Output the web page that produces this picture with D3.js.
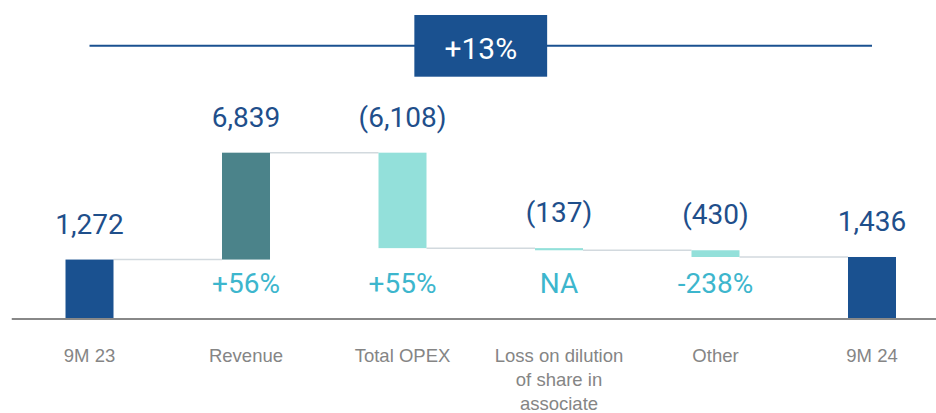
<!DOCTYPE html>
<html>
<head>
<meta charset="utf-8">
<script src="https://cdn.jsdelivr.net/npm/d3@7"></script>
<style>
  html, body { margin: 0; padding: 0; background: #fff; }
  svg { display: block; font-family: Roboto, "DejaVu Sans", sans-serif; }
</style>
</head>
<body>
<svg width="936" height="413"></svg>
<script>
// data
const categories = ['9M 23', 'Revenue', 'Total OPEX', 'Loss on dilution of share in associate', 'Other', '9M 24'];
const labelLines = [['9M 23'], ['Revenue'], ['Total OPEX'], ['Loss on dilution', 'of share in', 'associate'], ['Other'], ['9M 24']];
const values = [1272, 6839, -6108, -137, -430, 1436];
const kinds = ['total', 'delta', 'delta', 'delta', 'delta', 'total'];
const pctLabels = ['', '+56%', '+55%', 'NA', '-238%', ''];

const svg = d3.select('svg');
const width = +svg.attr('width');
const height = +svg.attr('height');

const colors = {total: '#1a5190', up: '#4b838a', down: '#93e0da'};

// value axis starts below zero (truncated chart)
const axisFloor = -2500;

// build waterfall steps
let running = 0;
const steps = values.map((v, i) => {
    let start, end;
    if (kinds[i] === 'total') { start = axisFloor; end = v; running = v; }
    else { start = running; end = running + v; running = end; }
    return {cat: categories[i], value: v, kind: kinds[i], start, end, pct: pctLabels[i]};
});

const x = d3.scaleBand()
    .domain(categories)
    .range([11.25, 950.25])
    .paddingInner(0.6933)
    .paddingOuter(0.3467);

const y = d3.scaleLinear()
    .domain([axisFloor, 8500])
    .range([318.5, 146.6]);

const bw = x.bandwidth();
const fmt = d3.format(',');
const valueText = d => d.value < 0 ? `(${fmt(-d.value)})` : fmt(d.value);

// connectors
const g = svg.append('g');
g.selectAll('line.conn')
    .data(steps.slice(0, -1))
    .enter()
    .append('line')
    .attr('class', 'conn')
    .attr('x1', d => x(d.cat) + bw)
    .attr('x2', (d, i) => x(steps[i + 1].cat))
    .attr('y1', d => y(d.end))
    .attr('y2', d => y(d.end))
    .attr('stroke', '#d2d9de')
    .attr('stroke-width', 1.5);

// bars
g.selectAll('rect.bar')
    .data(steps)
    .enter()
    .append('rect')
    .attr('class', 'bar')
    .attr('x', d => x(d.cat))
    .attr('width', bw)
    .attr('y', d => y(Math.max(d.start, d.end)))
    .attr('height', d => Math.max(2, Math.abs(y(d.start) - y(d.end))))
    .attr('fill', d => d.kind === 'total' ? colors.total : (d.value > 0 ? colors.up : colors.down));

// value labels
g.selectAll('text.val')
    .data(steps)
    .enter()
    .append('text')
    .attr('class', 'val')
    .attr('x', d => x(d.cat) + bw / 2)
    .attr('y', d => y(Math.max(d.start, d.end)) - 26)
    .attr('text-anchor', 'middle')
    .attr('font-size', 28)
    .attr('fill', '#1f4f8b')
    .text(valueText);

// percent labels under bars
g.selectAll('text.pct')
    .data(steps.filter(d => d.pct))
    .enter()
    .append('text')
    .attr('class', 'pct')
    .attr('x', d => x(d.cat) + bw / 2)
    .attr('y', y(axisFloor) - 25.5)
    .attr('text-anchor', 'middle')
    .attr('font-size', 28)
    .attr('fill', '#3db6cd')
    .text(d => d.pct);

// x axis
const xAxis = d3.axisBottom(x).tickSize(0).tickSizeOuter(0).tickFormat('');
const ax = svg.append('g')
    .attr('transform', `translate(0,${y(axisFloor)})`)
    .call(xAxis);
ax.select('.domain').attr('stroke', '#888').attr('stroke-width', 2.2);
ax.selectAll('.tick').each(function(d, i) {
    const t = d3.select(this).append('text')
        .attr('text-anchor', 'middle')
        .attr('fill', '#858585')
        .attr('font-size', 18.5)
        .attr('y', 43.5);
    labelLines[i].forEach((line, j) => {
        t.append('tspan').attr('x', 0).attr('dy', j === 0 ? 0 : 24).text(line);
    });
});

// overall change banner
const first = steps[0], last = steps[steps.length - 1];
const change = d3.format('+.0%')(last.value / first.value - 1);
const x1 = x(first.cat) + bw / 2, x2 = x(last.cat) + bw / 2;
const cx = (x1 + x2) / 2;
const banner = svg.append('g');
banner.append('line')
    .attr('x1', x1).attr('x2', x2)
    .attr('y1', 45.7).attr('y2', 45.7)
    .attr('stroke', '#1a5190')
    .attr('stroke-width', 2);
banner.append('rect')
    .attr('x', cx - 66.4).attr('y', 15)
    .attr('width', 132.8).attr('height', 61.7)
    .attr('fill', '#1a5190');
banner.append('text')
    .attr('x', cx).attr('y', 58.5)
    .attr('text-anchor', 'middle')
    .attr('font-size', 30)
    .attr('fill', '#fff')
    .text(change);
</script>
</body>
</html>
